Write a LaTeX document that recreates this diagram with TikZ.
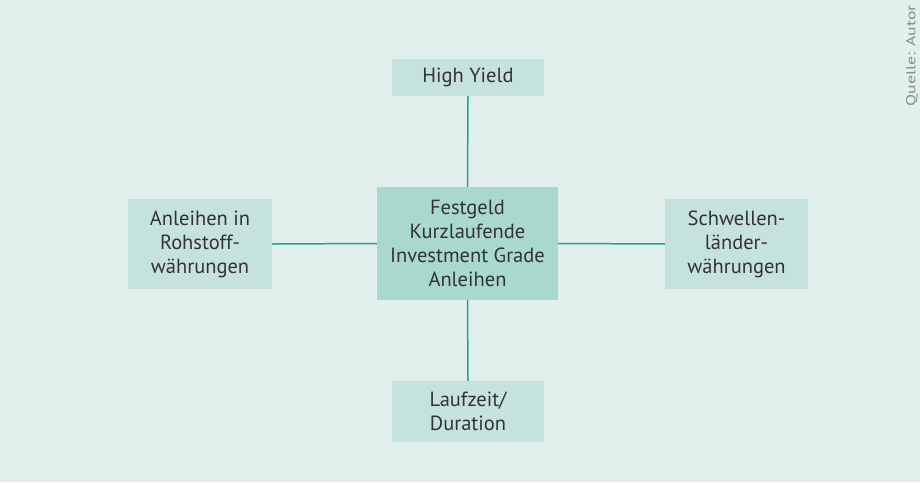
\documentclass[tikz,border=0pt]{standalone}
\usepackage{fontspec}
\setmainfont{PT Sans}
\definecolor{bgc}{HTML}{E1F0ED}
\definecolor{boxc}{HTML}{C5E3DC}
\definecolor{centc}{HTML}{A9D8CE}
\definecolor{linec}{HTML}{1FA88C}
\definecolor{txtc}{HTML}{333333}
\definecolor{qc}{HTML}{8A8A8A}
\begin{document}
\begin{tikzpicture}[x=1pt,y=-1pt,
  outerbox/.style={fill=boxc, draw=none, text=txtc, align=center, inner sep=0pt,
    font=\fontsize{20.5}{24}\selectfont},
  centerbox/.style={outerbox, fill=centc},
  conn/.style={draw=linec, line width=1.5pt}]
\fill[bgc] (0,0) rectangle (920,482);
\useasboundingbox (0,0) rectangle (920,482);
\node[outerbox, minimum width=152pt, minimum height=37pt] (hy) at (468,77.5) {High Yield};
\node[centerbox, minimum width=181pt, minimum height=113pt] (c) at (467.5,243.5) {Festgeld\\Kurzlaufende\\Investment Grade\\Anleihen};
\node[outerbox, minimum width=144pt, minimum height=90pt] (l) at (200,244) {Anleihen in\\Rohstoff-\\währungen};
\node[outerbox, minimum width=143pt, minimum height=90pt] (r) at (736.5,244) {Schwellen-\\länder-\\währungen};
\node[outerbox, minimum width=152pt, minimum height=61pt] (d) at (468,411.5) {Laufzeit/\\Duration};
\draw[conn] (hy.south) -- (c.north);
\draw[conn] (d.north) -- (c.south);
\draw[conn] (l.east) -- (c.west);
\draw[conn] (r.west) -- (c.east);
\node[rotate=90, text=qc, font=\fontsize{13}{15}\selectfont, inner sep=0pt, anchor=east] (q) at (912,5) {\scalebox{1.36}[1]{Quelle: Autor}};
\end{tikzpicture}
\end{document}
